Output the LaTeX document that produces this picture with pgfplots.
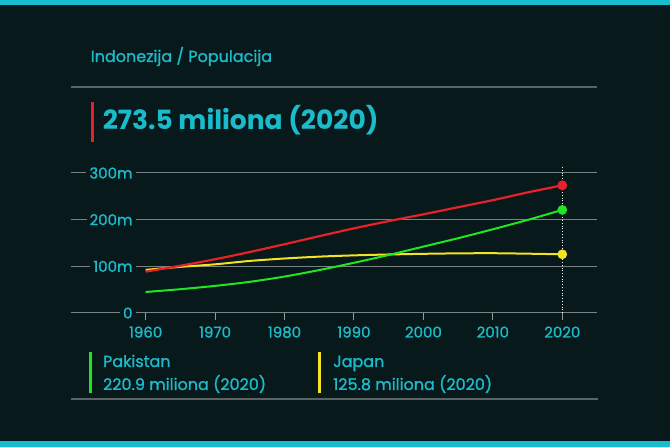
\documentclass[border=0pt]{standalone}
\usepackage{fontspec}
\setmainfont{Poppins}[UprightFeatures={FakeBold=1.2}]
\usepackage{pgfplots}
\pgfplotsset{compat=1.18}

\definecolor{bg}{HTML}{07191A}
\definecolor{tealtxt}{HTML}{1ABCCB}
\definecolor{tealbar}{HTML}{16BFCF}
\definecolor{gridc}{HTML}{788282}
\definecolor{sepc}{HTML}{5A6464}
\definecolor{cred}{HTML}{E8202A}
\definecolor{cgreen}{HTML}{22E522}
\definecolor{cyellow}{HTML}{F2E423}

\begin{document}
\begin{tikzpicture}
% background and frame
\fill[bg] (0,0) rectangle (670bp,447bp);
\fill[tealbar] (0,442bp) rectangle (670bp,447bp);
\fill[tealbar] (0,0) rectangle (670bp,6bp);

% header
\node[anchor=base west, inner sep=0, text=tealtxt, font=\fontsize{16bp}{19bp}\selectfont] at (90.6bp,385bp) {Indonezija / Populacija};
\draw[sepc, line width=1.5bp] (70.5bp,360bp) -- (597bp,360bp);
\fill[cred] (90.6bp,305.3bp) rectangle (94bp,345bp);
\node[anchor=base west, inner sep=0, text=tealtxt, font=\fontsize{26.5bp}{30bp}\selectfont\bfseries] at (102.6bp,317bp) {273.5 miliona (2020)};

\begin{axis}[
    at={(70.7bp,134bp)}, anchor=south west,
    scale only axis,
    width=526.3bp, height=140bp,
    xmin=1949.2, xmax=2025,
    ymin=0, ymax=300,
    clip=false,
    axis line style={draw=none},
    ymajorgrids,
    grid style={gridc, line width=1bp},
    ytick={0,100,200,300},
    yticklabels={0,100m,200m,300m},
    xtick={1960,1970,...,2020},
    xtick pos=lower, ytick pos=left,
    xticklabel style={/pgf/number format/1000 sep={}, yshift=-3bp},
    /pgf/number format/assume math mode=true,
    tick label style={text=tealtxt, font=\fontsize{15bp}{17bp}\selectfont},
    yticklabel style={anchor=east, xshift=72bp, fill=bg, inner xsep=3bp},
    ytick style={draw=none},
    xtick style={draw=gridc!80!white, line width=1bp},
    tick align=outside,
    major tick length=7bp,
]
\draw[white, dotted, line width=0.8bp] (axis cs:2020,0) -- (axis cs:2020,313);

% Japan
\addplot[cyellow, line width=2bp, smooth, mark=*, mark size=3.8bp, mark indices={13}, mark options={fill=cyellow, draw=cyellow}] coordinates {
(1960,92.5) (1965,98.9) (1970,104.3) (1975,111.6) (1980,116.8) (1985,120.8) (1990,123.5)
(1995,125.4) (2000,126.8) (2005,127.8) (2010,128.1) (2015,127.1) (2020,125.8)
};
% Pakistan
\addplot[cgreen, line width=2bp, smooth, mark=*, mark size=3.8bp, mark indices={13}, mark options={fill=cgreen, draw=cgreen}] coordinates {
(1960,45.0) (1965,51.0) (1970,58.1) (1975,66.8) (1980,78.1) (1985,92.0) (1990,107.6)
(1995,124.3) (2000,142.3) (2005,160.3) (2010,179.4) (2015,199.4) (2020,220.9)
};
% Indonesia
\addplot[cred, line width=2.2bp, smooth, mark=*, mark size=3.8bp, mark indices={13}, mark options={fill=cred, draw=cred}] coordinates {
(1960,88.7) (1965,101.3) (1970,115.2) (1975,130.7) (1980,147.4) (1985,164.6) (1990,181.4)
(1995,196.9) (2000,211.5) (2005,226.7) (2010,241.8) (2015,258.4) (2020,273.5)
};
\end{axis}

% legend
\fill[cgreen] (89bp,53.7bp) rectangle (92bp,95.3bp);
\node[anchor=base west, inner sep=0, text=tealtxt, font=\fontsize{16bp}{19bp}\selectfont] at (102.9bp,80bp) {Pakistan};
\node[anchor=base west, inner sep=0, text=tealtxt, font=\fontsize{16bp}{19bp}\selectfont] at (102.9bp,57bp) {220.9 miliona (2020)};
\fill[cyellow] (318bp,53.7bp) rectangle (321bp,95.3bp);
\node[anchor=base west, inner sep=0, text=tealtxt, font=\fontsize{16bp}{19bp}\selectfont] at (333bp,80bp) {Japan};
\node[anchor=base west, inner sep=0, text=tealtxt, font=\fontsize{16bp}{19bp}\selectfont] at (333bp,57bp) {125.8 miliona (2020)};
\draw[sepc, line width=1.5bp] (70.7bp,48bp) -- (597.5bp,48bp);
\end{tikzpicture}
\end{document}
